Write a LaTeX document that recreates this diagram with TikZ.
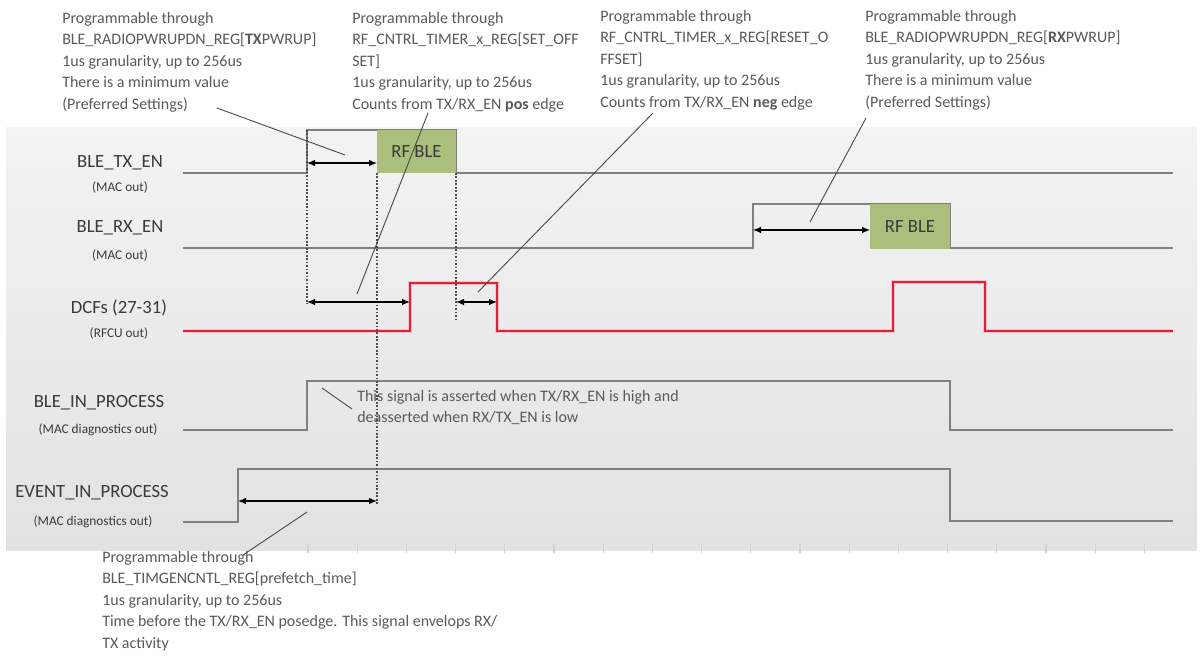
\documentclass[tikz,border=0pt]{standalone}
\usepackage{fontspec}
\setmainfont{Carlito}
\usetikzlibrary{arrows.meta}
\definecolor{labc}{HTML}{3A3A3A}
\definecolor{notec}{HTML}{5A5A5A}
\definecolor{sigc}{HTML}{808080}
\definecolor{redc}{HTML}{E3203A}
\definecolor{halo}{HTML}{F6C4CA}
\definecolor{boxc}{HTML}{A9BF7B}
\definecolor{paneltop}{HTML}{F3F3F3}
\definecolor{panelbot}{HTML}{E2E2E2}
\definecolor{tickc}{HTML}{D2D2D2}
\begin{document}
\begin{tikzpicture}[x=0.75pt,y=-0.75pt,
  siglab/.style={font=\fontsize{14}{16}\selectfont, text=labc, inner sep=0pt},
  sublab/.style={font=\fontsize{10}{12}\selectfont, text=labc, inner sep=0pt},
  note/.style={font=\fontsize{12}{16.1}\selectfont, text=notec, align=left, inner sep=0pt, anchor=north west},
  wave/.style={draw=sigc, line width=1.4pt, line join=miter},
  redwave/.style={draw=redc, line width=1.8pt},
  redhalo/.style={draw=halo, line width=3.6pt},
  rftext/.style={font=\fontsize{14}{16}\selectfont, text=labc, inner sep=0pt},
  guide/.style={draw=black!70, line width=0.9pt, dash pattern=on 1.3pt off 1.3pt},
  meas/.style={draw=black, line width=0.9pt, {Latex[length=6pt,width=5pt]}-{Latex[length=6pt,width=5pt]}},
  callout/.style={draw=black!70, line width=0.7pt},
  tickmark/.style={draw=tickc, line width=0.8pt}
]
\useasboundingbox (0,0) rectangle (1201,657);
\fill[white] (0,0) rectangle (1201,657);
\shade[top color=paneltop, bottom color=panelbot] (6,127) rectangle (1197,550);
\foreach \k in {0,...,17} {\draw[tickmark] (308+49.2*\k,544) -- (308+49.2*\k,553);}

% signal labels
\node[siglab] (ltx) at (120,163) {BLE\_TX\_EN};
\node[sublab] (ltxs) at (120,188) {(MAC out)};
\node[siglab] (lrx) at (120,228) {BLE\_RX\_EN};
\node[sublab] (lrxs) at (120,256) {(MAC out)};
\node[siglab] (ldcf) at (119,308) {DCFs (27-31)};
\node[sublab] (ldcfs) at (119,334) {(RFCU out)};
\node[siglab] (lble) at (99,403) {BLE\_IN\_PROCESS};
\node[sublab] (lbles) at (98,430) {(MAC diagnostics out)};
\node[siglab] (lev) at (92,493) {EVENT\_IN\_PROCESS};
\node[sublab] (levs) at (93,522) {(MAC diagnostics out)};

% waveforms
\draw[wave] (183,173) -- (307,173) -- (307,130) -- (456,130) -- (456,173) -- (1173,173);
\draw[wave] (183,248) -- (753,248) -- (753,204) -- (950,204) -- (950,248) -- (1173,248);
\draw[redhalo] (183,331) -- (410,331) -- (410,283) -- (497,283) -- (497,331) -- (893,331) -- (893,282) -- (985,282) -- (985,331) -- (1173,331);
\draw[redwave] (183,331) -- (410,331) -- (410,283) -- (497,283) -- (497,331) -- (893,331) -- (893,282) -- (985,282) -- (985,331) -- (1173,331);
\draw[wave] (183,430) -- (307,430) -- (307,381) -- (950,381) -- (950,430) -- (1173,430);
\draw[wave] (183,522) -- (238,522) -- (238,469) -- (950,469) -- (950,521) -- (1173,521);

% RF boxes
\fill[boxc] (377,130) rectangle (456,173);
\node[rftext] (rf1) at (416.5,152) {RF BLE};
\fill[boxc] (870,204) rectangle (950,249);
\node[rftext] (rf2) at (910,227) {RF BLE};

% guide lines
\coordinate (g1t) at (307,130); \coordinate (g1b) at (307,304);
\coordinate (g2t) at (377,173); \coordinate (g2b) at (377,505);
\coordinate (g3t) at (456,173); \coordinate (g3b) at (456,322);
\draw[guide] (g1t) -- (g1b);
\draw[guide] (g2t) -- (g2b);
\draw[guide] (g3t) -- (g3b);

% measurement arrows
\coordinate (m1a) at (307,163); \coordinate (m1b) at (377,163);
\coordinate (m2a) at (307,302); \coordinate (m2b) at (410,302);
\coordinate (m3a) at (456,302); \coordinate (m3b) at (497,302);
\coordinate (m4a) at (753,230); \coordinate (m4b) at (870,230);
\coordinate (m5a) at (238,501); \coordinate (m5b) at (377,501);
\draw[meas] (m1a) -- (m1b);
\draw[meas] (m2a) -- (m2b);
\draw[meas] (m3a) -- (m3b);
\draw[meas] (m4a) -- (m4b);
\draw[meas] (m5a) -- (m5b);

% notes
\node[note] (n1) at (62,12) {Programmable through\\BLE\_RADIOPWRUPDN\_REG[\textbf{TX}PWRUP]\\1us granularity, up to 256us\\There is a minimum value\\(Preferred Settings)};
\node[note] (n2) at (352,12) {Programmable through\\RF\_CNTRL\_TIMER\_x\_REG[SET\_OFF\\SET]\\1us granularity, up to 256us\\Counts from TX/RX\_EN \textbf{pos} edge};
\node[note] (n3) at (600,10) {Programmable through\\RF\_CNTRL\_TIMER\_x\_REG[RESET\_O\\FFSET]\\1us granularity, up to 256us\\Counts from TX/RX\_EN \textbf{neg} edge};
\node[note] (n4) at (865,10) {Programmable through\\BLE\_RADIOPWRUPDN\_REG[\textbf{RX}PWRUP]\\1us granularity, up to 256us\\There is a minimum value\\(Preferred Settings)};
\node[note] (n5) at (357,390) {This signal is asserted when TX/RX\_EN is high and\\deasserted when RX/TX\_EN is low};
\node[note] (n6) at (102,551) {Programmable through\\BLE\_TIMGENCNTL\_REG[prefetch\_time]\\1us granularity, up to 256us\\Time before the TX/RX\_EN posedge. This signal envelops RX/\\TX activity};

% callout lines
\coordinate (c1a) at (217,108); \coordinate (c1b) at (345,155);
\coordinate (c2a) at (428,113); \coordinate (c2b) at (357,294);
\coordinate (c3a) at (653,113); \coordinate (c3b) at (478,292);
\coordinate (c4a) at (866,118); \coordinate (c4b) at (810,222);
\coordinate (c5a) at (352,409); \coordinate (c5b) at (322,388);
\coordinate (c6a) at (243,555); \coordinate (c6b) at (307,512);
\draw[callout] (c1a) -- (c1b);
\draw[callout] (c2a) -- (c2b);
\draw[callout] (c3a) -- (c3b);
\draw[callout] (c4a) -- (c4b);
\draw[callout] (c5a) -- (c5b);
\draw[callout] (c6a) -- (c6b);
\end{tikzpicture}
\end{document}
